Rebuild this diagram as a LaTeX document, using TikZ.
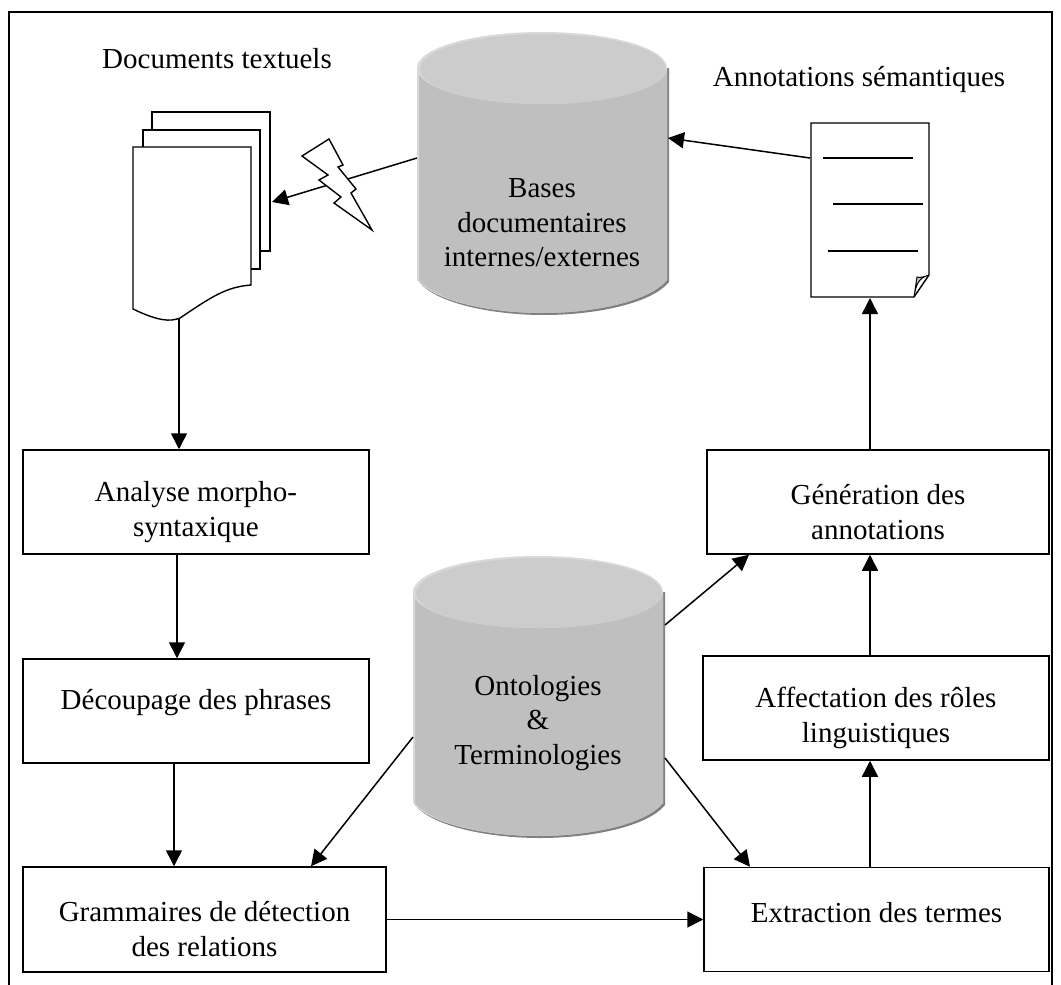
\documentclass[tikz,border=0pt]{standalone}
\usepackage{fontspec}
\setmainfont{Liberation Serif}
\usetikzlibrary{arrows.meta}
\definecolor{cylbody}{gray}{0.75}
\definecolor{cyltop}{gray}{0.80}
\definecolor{cylrim}{gray}{0.85}
\definecolor{cylshadow}{gray}{0.5}
\tikzset{
  x=1pt,y=-1pt,
  lbl/.style={font=\fontsize{29}{34.5}\selectfont,align=center,inner sep=0pt},
  procbox/.style={draw,line width=1.5pt,fill=white,inner sep=0pt},
  link/.style={line width=1.5pt,-{Triangle[length=16pt,width=16pt]}},
  paper/.style={draw,line width=1.4pt,fill=white,line join=miter},
}
\newcommand{\cylshape}[5]{% colour left right top bottom
  \fill[#1] (#2,#4+36) -- (#2,#5-34) .. controls (#2+18,#5-12) and (#2+75,#5-1) .. ({(#2+#3)/2},#5-1) .. controls (#3-75,#5-1) and (#3-18,#5-12) .. (#3,#5-34) -- (#3,#4+36) -- cycle;
}
\newcommand{\cyl}[4]{% left right top bottom
  \cylshape{cylshadow}{#1+2}{#2+2}{#3}{#4+2}
  \cylshape{cylrim}{#1}{#2}{#3}{#4}
  \cylshape{cylbody}{#1+2}{#2}{#3}{#4}
  \fill[cylrim] ({(#1+#2)/2},{#3+36}) ellipse[x radius={(#2-#1)/2},y radius=36];
  \fill[cyltop] ({(#1+#2)/2+1},{#3+37}) ellipse[x radius={(#2-#1)/2-2},y radius=35];
}
\begin{document}
\begin{tikzpicture}
\useasboundingbox (0,0) rectangle (1061,985);
\fill[white] (0,0) rectangle (1061,985);
\draw[line width=1.5pt] (9,985) -- (9,12) -- (1052,12) -- (1052,985);

\cyl{417}{667}{32}{314}
\cyl{413}{663}{556}{837}
\node[lbl] (bases) at (542,223) {Bases\\documentaires\\internes/externes};
\node[lbl] (onto) at (538,723) {Ontologies\\\&\\Terminologies};
\coordinate (basesL) at (417,158);
\coordinate (basesR) at (668,138);
\coordinate (ontoUR) at (665,625);
\coordinate (ontoLL) at (413,737);
\coordinate (ontoLR) at (665,758);

\node[lbl] (t1) at (217,59) {Documents textuels};
\node[lbl] (t2) at (859,80) {Annotations sémantiques};

% document stack
\draw[paper] (152,112) -- (270,112) -- (270,251) -- (152,251) -- cycle;
\draw[paper] (143,130) -- (260,130) -- (260,269) -- (143,269) -- cycle;
\draw[paper] (133,147) -- (251,147) -- (251,285) .. controls (225,287) and (210,298) .. (180,318) .. controls (170,322) and (158,321) .. (133,309) -- cycle;
\coordinate (docR) at (272,202);
\coordinate (docB) at (179,318);

% annotations sheet
\draw[paper] (811,123) -- (929,123) -- (929,275) -- (914,297) -- (811,297) -- cycle;
\draw[line width=1pt,fill=black!20] (914,297) .. controls (916,285) and (918,278) .. (929,275) .. controls (924,277) and (920,278) .. (917,277) -- cycle;
\draw[line width=1.2pt] (823,158) -- (913,158);
\draw[line width=1.2pt] (833,204) -- (923,204);
\draw[line width=1.2pt] (828,251) -- (918,251);
\coordinate (annL) at (810,158);
\coordinate (annB) at (870,298);

% process boxes
\node[procbox,minimum width=346pt,minimum height=104pt] (a) at (196,502) {};
\node[lbl,yshift=-10pt] (atext) at (a) {Analyse morpho-\\syntaxique};
\node[procbox,minimum width=346pt,minimum height=104pt] (b) at (196,711) {};
\node[lbl,yshift=8pt] (btext) at (b) {Découpage des phrases};
\node[procbox,minimum width=363pt,minimum height=105pt] (c) at (204.5,919.5) {};
\node[lbl,yshift=-9.5pt] (ctext) at (c) {Grammaires de détection\\des relations};
\node[procbox,minimum width=345pt,minimum height=104pt] (d) at (876.5,919.5) {};
\node[lbl,yshift=7pt] (dtext) at (d) {Extraction des termes};
\node[procbox,minimum width=346pt,minimum height=104pt] (e) at (876,708) {};
\node[lbl,yshift=-10pt] (etext) at (e) {Affectation des rôles\\linguistiques};
\node[procbox,minimum width=342pt,minimum height=104pt] (f) at (878,502) {};
\node[lbl,yshift=-10pt] (ftext) at (f) {Génération des\\annotations};

% connectors
\draw[link] (basesL) -- (docR);
\draw[link] (annL) -- (basesR);
\draw[link] (docB) -- ([xshift=-17pt]a.north);
\draw[link] ([xshift=-19pt]a.south) -- ([xshift=-19pt]b.north);
\draw[link] ([xshift=-22pt]b.south) -- ([xshift=-30.5pt]c.north);
\draw[link] (c.east) -- (d.west);
\draw[link] ([xshift=-6.5pt]d.north) -- ([xshift=-6pt]e.south);
\draw[link] ([xshift=-6pt]e.north) -- ([xshift=-8pt]f.south);
\draw[link] ([xshift=-8pt]f.north) -- (annB);
\draw[link] (ontoUR) -- ([xshift=-129pt]f.south);
\draw[link] (ontoLL) -- ([xshift=106.5pt]c.north);
\draw[link] (ontoLR) -- ([xshift=-126.5pt]d.north);

% bolt
\draw[paper] (329,139) -- (302,156) -- (328,175) -- (319,180) -- (341,197) -- (334,203) -- (372,230) -- (351,193) -- (356,189) -- (338,167) -- (343,165) -- cycle;
\end{tikzpicture}
\end{document}
